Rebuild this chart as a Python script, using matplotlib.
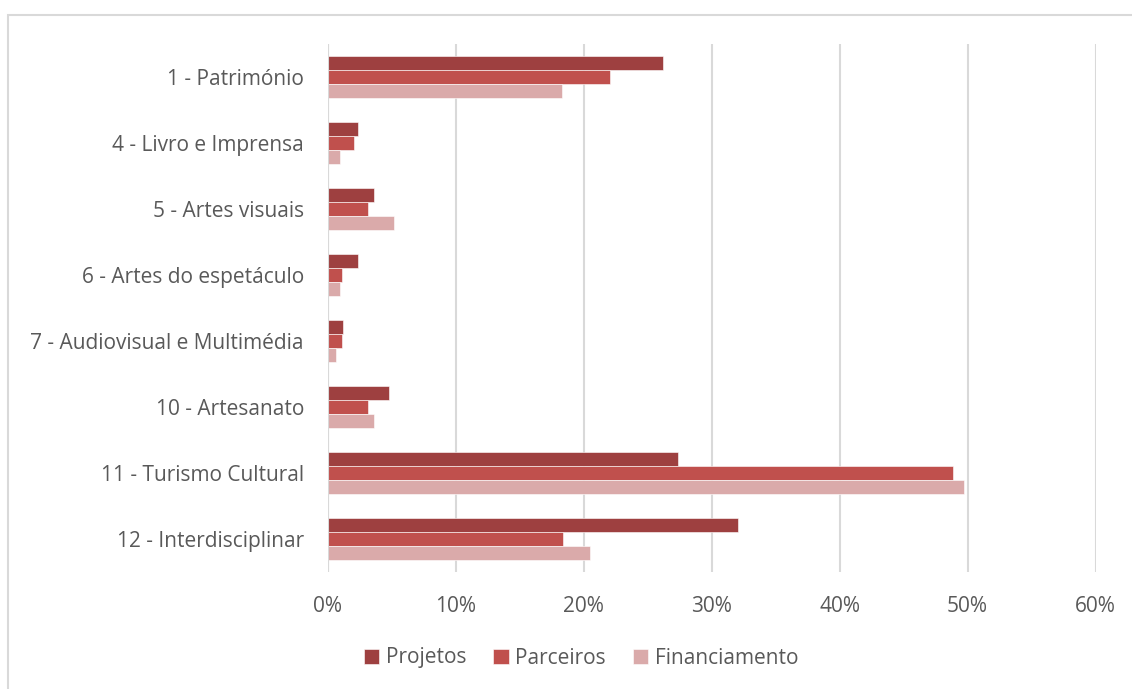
import matplotlib
matplotlib.use("Agg")
import matplotlib.pyplot as plt
import numpy as np
from matplotlib.patches import Rectangle

categories = ["1 - Património", "4 - Livro e Imprensa", "5 - Artes visuais",
              "6 - Artes do espetáculo", "7 - Audiovisual e Multimédia",
              "10 - Artesanato", "11 - Turismo Cultural", "12 - Interdisciplinar"]
projetos = [26.2, 2.4, 3.6, 2.4, 1.2, 4.8, 27.4, 32.1]
parceiros = [22.1, 2.1, 3.2, 1.1, 1.1, 3.2, 48.9, 18.4]
financiamento = [18.3, 1.0, 5.2, 1.0, 0.7, 3.6, 49.7, 20.5]
series_names = ["Projetos", "Parceiros", "Financiamento"]
colors = ["#9E4040", "#C0504D", "#DAAAAA"]
xticks = [0, 10, 20, 30, 40, 50, 60]

plt.rcParams['font.family'] = ['Open Sans', 'DejaVu Sans']
W, H = 1132, 689
fig = plt.figure(figsize=(W/100, H/100), dpi=100)
fig.patches.append(Rectangle((8/W, -0.1), 1.2, (H-15)/H + 0.1, transform=fig.transFigure,
                             fill=False, edgecolor="#D9D9D9", linewidth=1.5))
ax = fig.add_axes([327.5/W, 1-572/H, (1095.5-327.5)/W, (572-44)/H])

n = len(categories)
y = np.arange(n)
h = 0.208
data = [projetos, parceiros, financiamento]
for i, (vals, c, name) in enumerate(zip(data, colors, series_names)):
    ax.barh(y + (i-1)*h, vals, height=h, color=c, label=name,
            edgecolor="white", linewidth=0.4, zorder=3)

ax.set_ylim(n-0.5, -0.5)
ax.set_xlim(0, 60)
ax.set_xticks(xticks)
ax.set_xticklabels([f"{v}%" for v in xticks])
ax.set_yticks(y)
ax.set_yticklabels(categories)
ax.tick_params(axis='both', length=0, labelsize=15, labelcolor="#595959")
ax.tick_params(axis='x', pad=17)
ax.tick_params(axis='y', pad=17)
ax.grid(axis='x', color="#D9D9D9", linewidth=1.5, zorder=0)
for s in ax.spines.values():
    s.set_visible(False)
ax.axvline(0, color="#D9D9D9", linewidth=1.5, zorder=4)

leg = fig.legend(loc='center', bbox_to_anchor=(581/W, 1-658/H), ncol=3, frameon=False,
                 fontsize=15, handlelength=0.75, handleheight=0.75, handletextpad=0.3,
                 columnspacing=1.3, labelcolor="#595959")
fig.savefig("out.png", dpi=100)
